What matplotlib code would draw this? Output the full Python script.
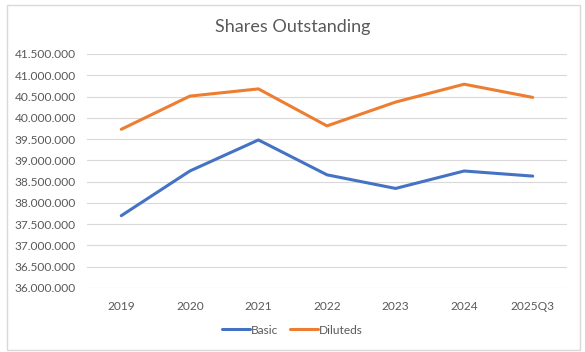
import matplotlib.pyplot as plt
from matplotlib.patches import Rectangle
from matplotlib.ticker import FuncFormatter

# --- data ---
years = ['2019', '2020', '2021', '2022', '2023', '2024', '2025Q3']
basic = [37.70e6, 38.75e6, 39.48e6, 38.66e6, 38.34e6, 38.75e6, 38.63e6]
diluted = [39.73e6, 40.51e6, 40.68e6, 39.81e6, 40.37e6, 40.79e6, 40.48e6]
y_ticks = [36.0e6 + i * 0.5e6 for i in range(12)]

blue = '#4472C4'
orange = '#ED7D31'
grey_text = '#595959'

plt.rcParams['font.family'] = ['Lato', 'DejaVu Sans']

fig = plt.figure(figsize=(5.85, 3.52), dpi=100)
ax = fig.add_axes([87 / 585, 1 - 288 / 352, 480 / 585, 234 / 352])

# light frame around the whole chart, like the Excel chart area
fig.patches.append(Rectangle((7 / 585, 1 - 350 / 352), 573 / 585, 345 / 352,
                             transform=fig.transFigure, fill=False,
                             edgecolor='#D9D9D9', linewidth=1.0))

x = range(len(years))
ax.plot(x, basic, color=blue, linewidth=2.2, label='Basic', solid_capstyle='round')
ax.plot(x, diluted, color=orange, linewidth=2.2, label='Diluteds', solid_capstyle='round')

ax.set_xlim(-0.5, len(years) - 0.5)
ax.set_ylim(36.0e6, 41.5e6)
ax.set_yticks(y_ticks)
ax.yaxis.set_major_formatter(FuncFormatter(lambda v, p: f'{v:,.0f}'.replace(',', '.')))
ax.set_xticks(list(x))
ax.set_xticklabels(years)

ax.grid(axis='y', color='#D9D9D9', linewidth=0.8)
ax.set_axisbelow(True)
for s in ax.spines.values():
    s.set_visible(False)
ax.tick_params(axis='both', length=0, labelsize=8.6, labelcolor=grey_text)
ax.tick_params(axis='y', pad=8)
ax.tick_params(axis='x', pad=9)

fig.text(293 / 585, 1 - 27 / 352, 'Shares Outstanding', ha='center', va='center',
         fontsize=13, color=grey_text)

fig.legend(loc='center', bbox_to_anchor=(0.5, 1 - 330 / 352), ncol=2, frameon=False,
           fontsize=8.6, labelcolor=grey_text, handlelength=2.3, handletextpad=0.1,
           columnspacing=1.0)

fig.savefig('out.png', dpi=100)
